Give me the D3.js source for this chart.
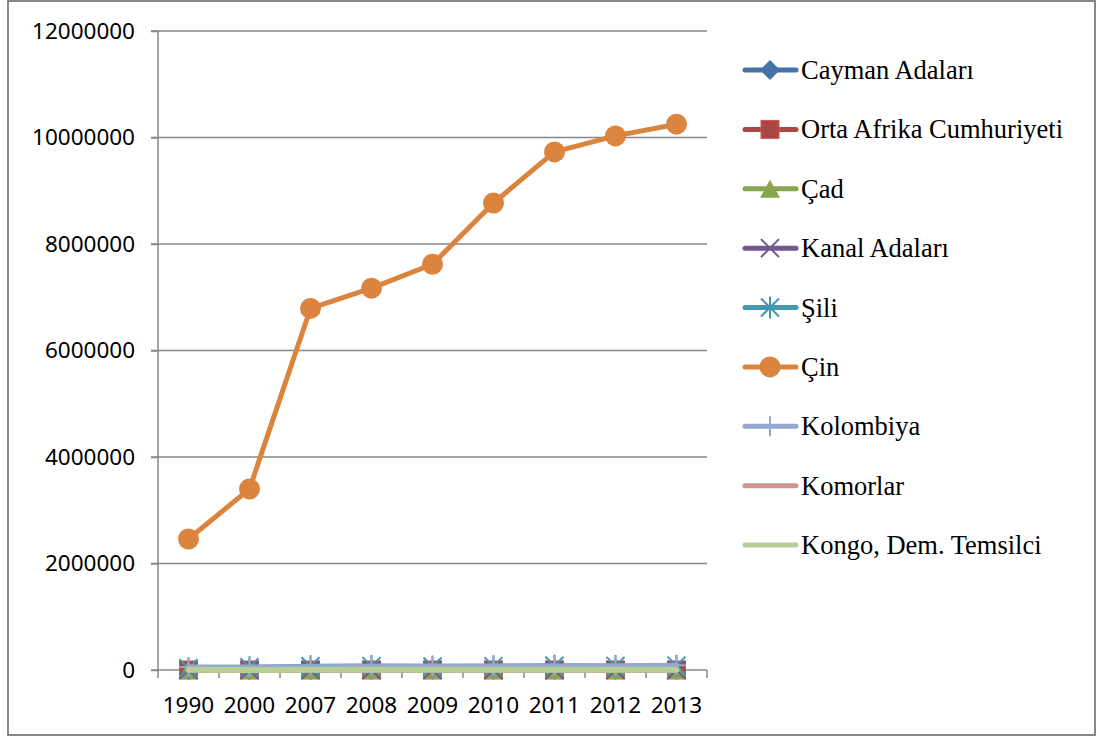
<!DOCTYPE html>
<html>
<head>
<meta charset="utf-8">
<script src="https://cdn.jsdelivr.net/npm/d3@7"></script>
<style>
  html, body { margin: 0; padding: 0; background: #fff; }
  svg { display: block; }
</style>
</head>
<body>
<svg id="chart" width="1097" height="737"></svg>
<script>
'use strict';

// data (CO2, kt)
var years = ['1990', '2000', '2007', '2008', '2009', '2010', '2011', '2012', '2013'];
var yTicks = [0, 2000000, 4000000, 6000000, 8000000, 10000000, 12000000];

var seriesNames = ['Cayman Adaları', 'Orta Afrika Cumhuriyeti', 'Çad', 'Kanal Adaları', 'Şili',
                   'Çin', 'Kolombiya', 'Komorlar', 'Kongo, Dem. Temsilci'];
var seriesColors = ['#4572A7', '#AA4643', '#89A54E', '#71588F', '#4198AF',
                    '#DB843D', '#93A9CF', '#D19392', '#B9CD96'];
var seriesMarkers = ['diamond', 'square', 'triangle', 'x', 'asterisk', 'circle', 'plus', 'none', 'none'];

var cayman   = [300, 400, 550, 550, 550, 590, 590, 600, 600];
var ortaAfr  = [200, 270, 240, 250, 260, 260, 260, 280, 290];
var cad      = [210, 180, 400, 420, 450, 480, 510, 540, 560];
var kanal    = [0, 0, 0, 0, 0, 0, 0, 0, 0];
var sili     = [33000, 52000, 71000, 73000, 66000, 72000, 80000, 77000, 82000];
var cin      = [2460000, 3400000, 6790000, 7170000, 7620000, 8770000, 9730000, 10030000, 10250000];
var kolombiya = [57000, 58000, 62000, 69000, 74000, 75000, 76000, 81000, 89000];
var komorlar = [70, 90, 120, 130, 140, 140, 150, 150, 150];
var kongo    = [4000, 1700, 2500, 2700, 2600, 2900, 3000, 4000, 4600];

var seriesValues = [cayman, ortaAfr, cad, kanal, sili, cin, kolombiya, komorlar, kongo];

(function() {
    var svg = d3.select('#chart');

    // outer frame
    svg.append('rect')
        .attr('x', 8).attr('y', 1)
        .attr('width', 1087).attr('height', 734)
        .attr('fill', '#fff')
        .attr('stroke', '#888').attr('stroke-width', 2);

    var plot = {left: 158, right: 707, top: 31, bottom: 670};

    var x = d3.scaleBand().domain(years).range([plot.left, plot.right]);
    var y = d3.scaleLinear().domain([0, 12000000]).range([plot.bottom, plot.top]);

    var grey = '#878787';

    // gridlines
    svg.append('g').selectAll('line')
        .data(yTicks.filter(function(d) { return d > 0; }))
        .enter().append('line')
        .attr('x1', plot.left - 7).attr('x2', plot.right)
        .attr('y1', function(d) { return y(d); })
        .attr('y2', function(d) { return y(d); })
        .attr('stroke', grey).attr('stroke-width', 1.5);

    // y axis
    var yAxis = svg.append('g')
        .attr('transform', 'translate(' + plot.left + ',0)')
        .call(d3.axisLeft(y).tickValues(yTicks).tickSize(7).tickPadding(16).tickFormat(d3.format('d')));
    yAxis.select('.domain').remove();
    yAxis.selectAll('.tick line').attr('stroke', grey).attr('stroke-width', 1.5);
    yAxis.append('line')
        .attr('x1', 0).attr('x2', 0)
        .attr('y1', plot.top).attr('y2', plot.bottom + 8)
        .attr('stroke', grey).attr('stroke-width', 1.5);
    yAxis.selectAll('text')
        .attr('fill', '#000')
        .style('font-family', '"Noto Sans", "Open Sans", sans-serif')
        .style('font-size', '22.5px');

    // x axis
    var xAxis = svg.append('g')
        .attr('transform', 'translate(0,' + plot.bottom + ')');
    xAxis.append('line')
        .attr('x1', plot.left - 7).attr('x2', plot.right)
        .attr('stroke', grey).attr('stroke-width', 1.5);
    var bounds = years.map(function(d) { return x(d); }).concat([plot.right]);
    xAxis.selectAll('line.tk')
        .data(bounds.slice(1))
        .enter().append('line')
        .attr('class', 'tk')
        .attr('x1', function(d) { return d; }).attr('x2', function(d) { return d; })
        .attr('y1', 0).attr('y2', 8)
        .attr('stroke', grey).attr('stroke-width', 1.5);
    xAxis.selectAll('text')
        .data(years)
        .enter().append('text')
        .attr('x', function(d) { return x(d) + x.bandwidth() / 2; })
        .attr('y', 43)
        .attr('text-anchor', 'middle')
        .style('font-family', '"Noto Sans", "Open Sans", sans-serif')
        .style('font-size', '22.5px')
        .text(function(d) { return d; });

    // marker drawing
    function drawMarker(g, type, color, cx, cy, legend) {
        var s = 9;
        if (type === 'diamond') {
            g.append('path')
                .attr('d', 'M' + cx + ',' + (cy - s - 1) + 'L' + (cx + s + 1) + ',' + cy + 'L' + cx + ',' + (cy + s + 1) + 'L' + (cx - s - 1) + ',' + cy + 'Z')
                .attr('fill', color);
        } else if (type === 'square') {
            g.append('rect')
                .attr('x', cx - s).attr('y', cy - s)
                .attr('width', 2 * s).attr('height', 2 * s)
                .attr('fill', color).attr('stroke', d3.color(color).brighter(0.6)).attr('stroke-width', 1);
        } else if (type === 'triangle') {
            g.append('path')
                .attr('d', 'M' + cx + ',' + (cy - s) + 'L' + (cx + s + 1) + ',' + (cy + s) + 'L' + (cx - s - 1) + ',' + (cy + s) + 'Z')
                .attr('fill', color);
        } else if (type === 'x') {
            g.append('path')
                .attr('d', 'M' + (cx - s) + ',' + (cy - s) + 'L' + (cx + s) + ',' + (cy + s) + 'M' + (cx + s) + ',' + (cy - s) + 'L' + (cx - s) + ',' + (cy + s))
                .attr('stroke', color).attr('stroke-width', 2);
        } else if (type === 'asterisk') {
            g.append('path')
                .attr('d', 'M' + (cx - s) + ',' + (cy - s) + 'L' + (cx + s) + ',' + (cy + s) + 'M' + (cx + s) + ',' + (cy - s) + 'L' + (cx - s) + ',' + (cy + s) +
                           'M' + cx + ',' + (cy - s - 2) + 'L' + cx + ',' + (cy + s + 2))
                .attr('stroke', color).attr('stroke-width', 2);
        } else if (type === 'circle') {
            g.append('circle')
                .attr('cx', cx).attr('cy', cy).attr('r', 10.5)
                .attr('fill', color);
        } else if (type === 'plus') {
            g.append('path')
                .attr('d', 'M' + cx + ',' + (cy - s - 1) + 'L' + cx + ',' + (cy + s + 1) + (legend ? '' : 'M' + (cx - s) + ',' + cy + 'L' + (cx + s) + ',' + cy))
                .attr('stroke', color).attr('stroke-width', 2);
        }
    }

    var line = d3.line()
        .x(function(d, i) { return x(years[i]) + x.bandwidth() / 2; })
        .y(function(d) { return y(d); });

    seriesValues.forEach(function(vals, si) {
        var g = svg.append('g').attr('class', 'series');
        g.append('path')
            .datum(vals)
            .attr('d', line)
            .attr('fill', 'none')
            .attr('stroke', seriesColors[si])
            .attr('stroke-width', si === 8 ? 6 : 5)
            .attr('stroke-linejoin', 'round')
            .attr('stroke-linecap', 'round');
        vals.forEach(function(v, i) {
            drawMarker(g, seriesMarkers[si], seriesColors[si], x(years[i]) + x.bandwidth() / 2, y(v), false);
        });
    });

    // legend
    var legend = svg.append('g');
    var legendY = d3.scalePoint().domain(seriesNames).range([70, 545]);
    seriesNames.forEach(function(name, si) {
        var cy = legendY(name);
        legend.append('line')
            .attr('x1', 745).attr('x2', 796)
            .attr('y1', cy).attr('y2', cy)
            .attr('stroke', seriesColors[si]).attr('stroke-width', 5)
            .attr('stroke-linecap', 'round');
        drawMarker(legend, seriesMarkers[si], seriesColors[si], 770, cy, true);
        legend.append('text')
            .attr('x', 801).attr('y', cy + 9)
            .style('font-family', '"Liberation Serif", "Times New Roman", serif')
            .style('font-size', '26.5px')
            .text(name);
    });
})();
</script>
</body>
</html>
